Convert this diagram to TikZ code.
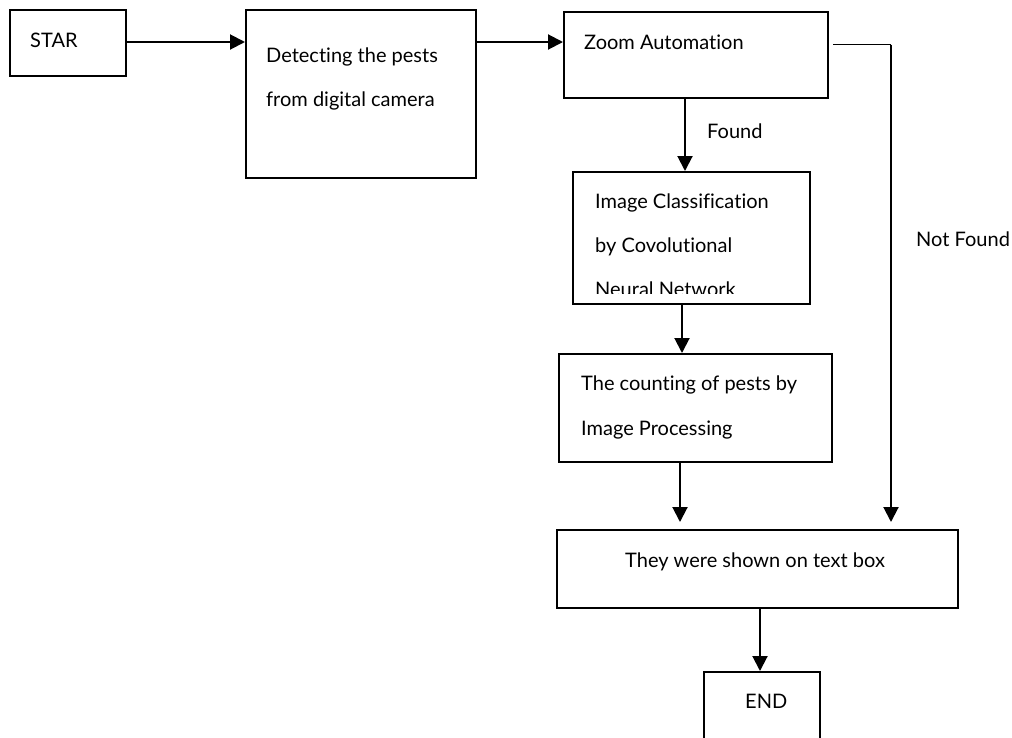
\documentclass[tikz,border=0pt]{standalone}
\usepackage{fontspec}
\setmainfont{Lato}[Ligatures={NoCommon,NoRare,NoDiscretionary}]
\usetikzlibrary{arrows.meta}
\newcommand{\nl}{\kern0pt}
\begin{document}
\begin{tikzpicture}[x=1pt,y=-1pt,
  box/.style={draw, line width=2pt, inner sep=0pt},
  txt/.style={anchor=base west, inner sep=0pt, font=\fontsize{20}{24}\selectfont},
  arr/.style={line width=2pt, -{Triangle[length=15pt,width=15pt]}},
  thinline/.style={line width=1pt}]
\useasboundingbox (0,0) rectangle (1012,737);
\clip (0,0) rectangle (1012,737);
% boxes
\node[box, minimum width=116pt, minimum height=66pt] (start) at (68,43) {};
\node[box, minimum width=230pt, minimum height=168pt] (detect) at (361,94) {};
\node[box, minimum width=264pt, minimum height=86pt] (zoom) at (696,55) {};
\node[box, minimum width=237pt, minimum height=132pt] (cls) at (691.5,238) {};
\node[box, minimum width=273pt, minimum height=108pt] (count) at (695.5,408) {};
\node[box, minimum width=401pt, minimum height=78pt] (shown) at (757.5,569) {};
\node[box, minimum width=116pt, minimum height=100pt] (end) at (762,722) {};
% texts
\node[txt] (tstart) at (30,47) {STAR};
\node[txt] (tdet1) at (266,62) {Detect\nl ing the pests};
\node[txt] (tdet2) at (266,106) {from digital camera};
\node[txt] (tzoom) at (584,49) {Zoom Automat\nl ion};
\node[txt] (tcls1) at (595,208) {Image Classif\nl icat\nl ion};
\node[txt] (tcls2) at (595,252) {by Covolut\nl ional};
\begin{scope}
  \clip (575,260) rectangle (808,293);
  \node[txt] (tcls3) at (595,296) {Neural Network};
\end{scope}
\node[txt] (tcnt1) at (581,390) {The count\nl ing of pests by};
\node[txt] (tcnt2) at (581,435) {Image Processing};
\node[txt] (tshown) at (625,567) {They were shown on text box};
\node[txt] (tend) at (745,708) {END};
\node[txt] (tfound) at (707,138) {Found};
\node[txt] (tnf) at (916,246) {Not Found};
% connectors
\draw[arr] (start.east |- 0,42) -- (detect.west |- 0,42);
\draw[arr] (detect.east |- 0,42) -- (zoom.west |- 0,42);
\draw[arr] (zoom.south -| 685,0) -- (cls.north -| 685,0);
\draw[arr] (cls.south -| 682,0) -- (count.north -| 682,0);
\draw[arr, shorten >=7pt] (count.south -| 680,0) -- (shown.north -| 680,0);
\coordinate (nfa) at (833,44);
\coordinate (nfb) at (891,44);
\draw[thinline] (nfa) -- (nfb);
\draw[arr, shorten >=7pt] ([yshift=-0.5pt]nfb) -- (shown.north -| nfb);
\draw[arr] (shown.south -| 760,0) -- (end.north -| 760,0);
\end{tikzpicture}
\end{document}
